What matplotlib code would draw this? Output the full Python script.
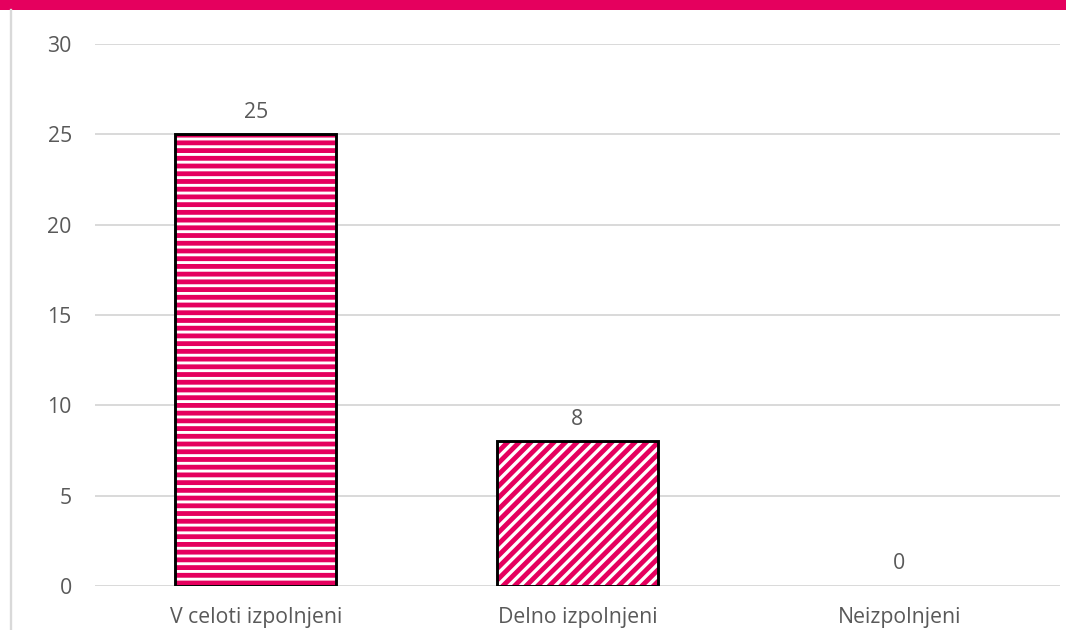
import matplotlib
matplotlib.use("Agg")
import matplotlib.pyplot as plt
from matplotlib.patches import Rectangle
from matplotlib.lines import Line2D

categories = ["V celoti izpolnjeni", "Delno izpolnjeni", "Neizpolnjeni"]
values = [25, 8, 0]
hatches = ["---", "////", "////"]

PINK = "#e5005e"
TEXT = "#595959"
GRID = "#d9d9d9"

W, H, DPI = 1066, 630, 139
plt.rcParams["hatch.linewidth"] = 2.5
plt.rcParams["font.family"] = ["Open Sans", "DejaVu Sans"]

fig = plt.figure(figsize=(W / DPI, H / DPI), dpi=DPI)
fig.patch.set_facecolor("white")

# pink band on top and thin grey frame line on the left
fig.patches.append(Rectangle((0, 1 - 10 / H), 1, 10 / H, transform=fig.transFigure,
                             facecolor=PINK, edgecolor="none"))
fig.lines.append(Line2D([11 / W, 11 / W], [0, 1 - 10 / H], transform=fig.transFigure,
                        color=GRID, linewidth=1.2))

ax = fig.add_axes([95 / W, (H - 586) / H, 965 / W, 542 / H])
x = range(len(categories))

bars = ax.bar(x, values, 0.5, color="white", edgecolor=PINK, linewidth=0, zorder=3)
for b, h in zip(bars, hatches):
    b.set_hatch(h)
edges = ["black" if v > 0 else "none" for v in values]
ax.bar(x, values, 0.5, fill=False, edgecolor=edges, linewidth=1.5, zorder=4)

for xi, v in zip(x, values):
    ax.annotate(str(v), (xi, v), textcoords="offset points", xytext=(0, 11.5),
                ha="center", va="center", color=TEXT, fontsize=11)

ax.set_ylim(0, 30)
ax.set_xlim(-0.5, len(categories) - 0.5)
ax.set_yticks(range(0, 31, 5))
ax.set_xticks(list(x))
ax.set_xticklabels(categories)
ax.yaxis.grid(True, color=GRID, linewidth=1.0, zorder=0)
ax.set_axisbelow(True)
for s in ax.spines.values():
    s.set_visible(False)
ax.tick_params(axis="both", length=0, colors=TEXT, labelsize=11)
ax.tick_params(axis="y", pad=12)
ax.tick_params(axis="x", pad=11)

fig.savefig("out.png", dpi=DPI)
